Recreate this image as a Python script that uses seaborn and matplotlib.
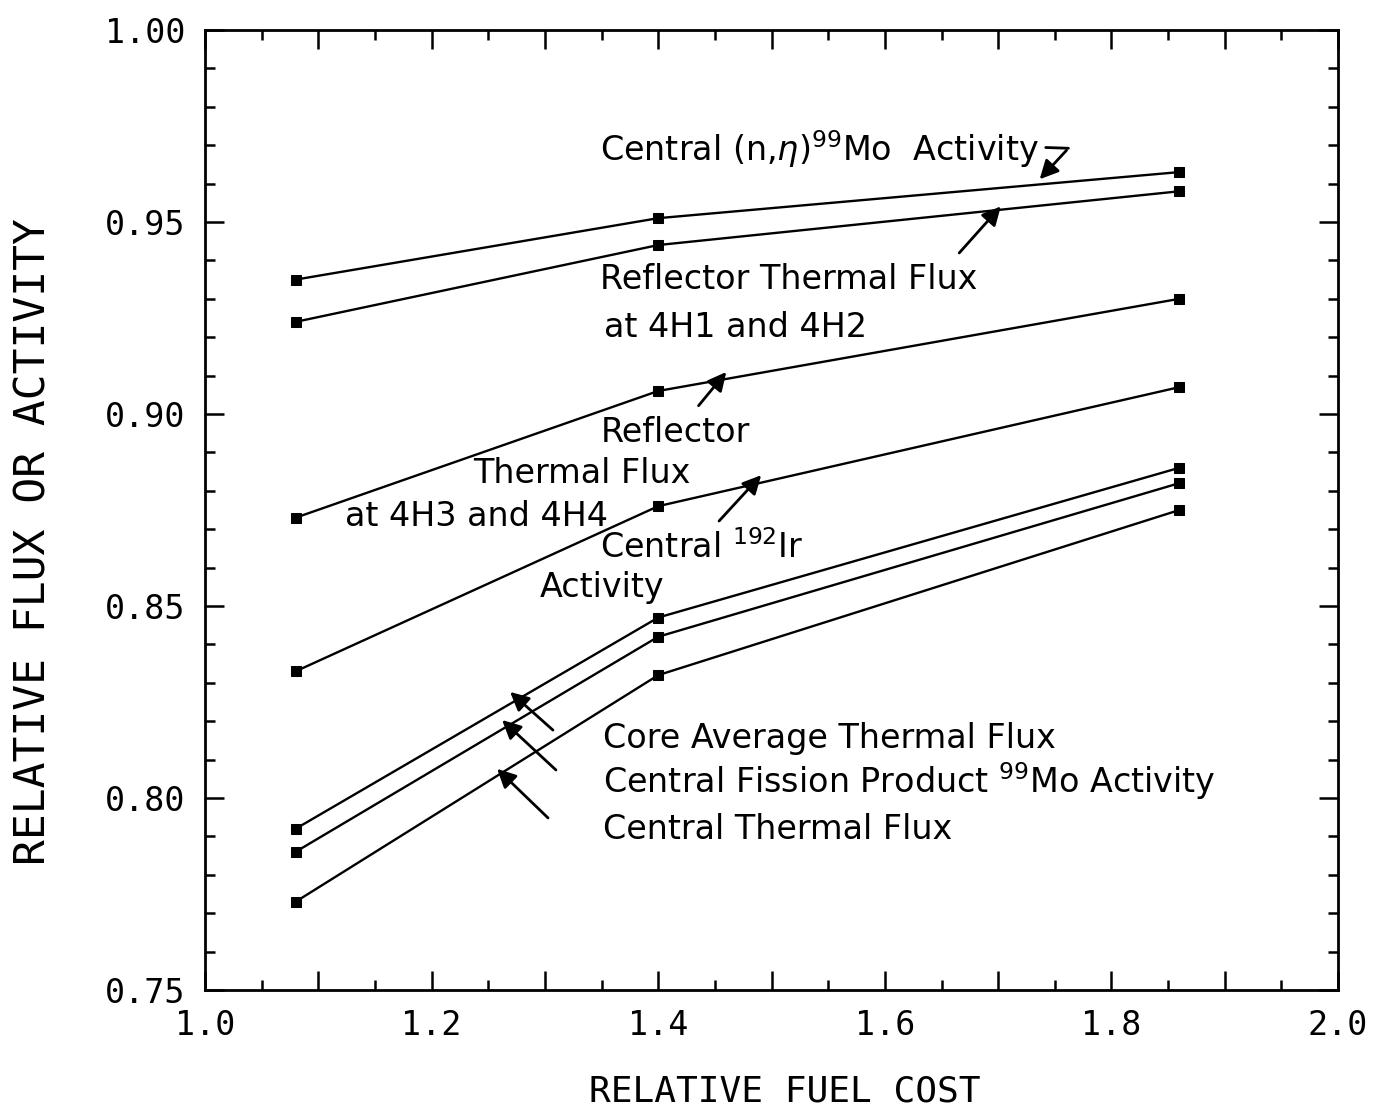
import seaborn as sns
import matplotlib.pyplot as plt
import pandas as pd
from matplotlib.ticker import MultipleLocator

# data
fuel_cost = [1.08, 1.40, 1.86]
central_ng_mo99 = [0.935, 0.951, 0.963]
refl_4h1_4h2 = [0.924, 0.944, 0.958]
refl_4h3_4h4 = [0.873, 0.906, 0.930]
central_ir192 = [0.833, 0.876, 0.907]
core_avg_thermal = [0.792, 0.847, 0.886]
central_fp_mo99 = [0.786, 0.842, 0.882]
central_thermal = [0.773, 0.832, 0.875]

series = {
    'central_ng_mo99': central_ng_mo99,
    'refl_4h1_4h2': refl_4h1_4h2,
    'refl_4h3_4h4': refl_4h3_4h4,
    'central_ir192': central_ir192,
    'core_avg_thermal': core_avg_thermal,
    'central_fp_mo99': central_fp_mo99,
    'central_thermal': central_thermal,
}
rows = []
for name, vals in series.items():
    for x, y in zip(fuel_cost, vals):
        rows.append({'cost': x, 'value': y, 'series': name})
df = pd.DataFrame(rows)

sns.set_style('ticks')
plt.rcParams['font.family'] = ['DejaVu Sans']
plt.rcParams['text.color'] = 'black'
plt.rcParams['axes.labelcolor'] = 'black'

fig = plt.figure(figsize=(13.8, 11.15), dpi=100)
ax = fig.add_axes([0.1486, 0.1121, 0.821, 0.861])

sns.lineplot(data=df, x='cost', y='value', hue='series',
             palette=['black'] * len(series), marker='s', markersize=7,
             markeredgecolor='black', linewidth=1.7, legend=False, ax=ax)

ax.set_xlim(1.0, 2.0)
ax.set_ylim(0.75, 1.00)
ax.xaxis.set_minor_locator(MultipleLocator(0.05))
ax.yaxis.set_minor_locator(MultipleLocator(0.01))
ax.set_xticks([1.0, 1.1, 1.2, 1.3, 1.4, 1.5, 1.6, 1.7, 1.8, 1.9, 2.0])
ax.set_xticklabels(['1.0', '', '1.2', '', '1.4', '', '1.6', '', '1.8', '', '2.0'])
ax.set_yticks([0.75, 0.80, 0.85, 0.90, 0.95, 1.00])
ax.set_yticklabels(['0.75', '0.80', '0.85', '0.90', '0.95', '1.00'])

ax.tick_params(which='both', direction='in', top=True, right=True, width=1.8,
               colors='black')
ax.tick_params(which='major', length=14, pad=14)
ax.tick_params(which='minor', length=7)
for lab in ax.get_xticklabels() + ax.get_yticklabels():
    lab.set_family('DejaVu Sans Mono')
    lab.set_fontsize(24)
for sp in ax.spines.values():
    sp.set_linewidth(2)
    sp.set_color('black')

ax.set_xlabel('RELATIVE FUEL COST', family='DejaVu Sans Mono', fontsize=26)
ax.set_ylabel('RELATIVE FLUX OR ACTIVITY', family='DejaVu Sans Mono',
              fontsize=31)
ax.xaxis.set_label_coords(0.512, -0.088)
ax.yaxis.set_label_coords(-0.133, 0.467)

fs = 24
arrow = dict(arrowstyle='-|>', color='black', lw=2, mutation_scale=28)

# top curve label with bent leader
ax.text(1.349, 0.969, r'Central (n,$\eta$)$^{99}$Mo  Activity', fontsize=fs,
        va='center', ha='left')
ax.plot([1.742, 1.762], [0.9694, 0.9692], color='black', lw=2)
ax.annotate('', xy=(1.735, 0.9606), xytext=(1.762, 0.9692), arrowprops=arrow)

ax.text(1.349, 0.9349, 'Reflector Thermal Flux', fontsize=fs, va='center')
ax.text(1.352, 0.9224, 'at 4H1 and 4H2', fontsize=fs, va='center')
ax.annotate('', xy=(1.704, 0.9546), xytext=(1.664, 0.9414), arrowprops=arrow)

ax.text(1.349, 0.8953, 'Reflector', fontsize=fs, va='center')
ax.text(1.2365, 0.8846, 'Thermal Flux', fontsize=fs, va='center')
ax.text(1.1236, 0.8734, 'at 4H3 and 4H4', fontsize=fs, va='center')
ax.annotate('', xy=(1.4616, 0.9115), xytext=(1.434, 0.9016), arrowprops=arrow)

ax.text(1.349, 0.8651, r'Central $^{192}$Ir', fontsize=fs, va='center')
ax.text(1.2957, 0.8549, 'Activity', fontsize=fs, va='center')
ax.annotate('', xy=(1.4925, 0.8846), xytext=(1.452, 0.8716), arrowprops=arrow)

ax.text(1.351, 0.8154, 'Core Average Thermal Flux', fontsize=fs, va='center')
ax.text(1.351, 0.8044, r'Central Fission Product $^{99}$Mo Activity',
        fontsize=fs, va='center')
ax.text(1.351, 0.7919, 'Central Thermal Flux', fontsize=fs, va='center')
ax.annotate('', xy=(1.2674, 0.8281), xytext=(1.3089, 0.8172), arrowprops=arrow)
ax.annotate('', xy=(1.2604, 0.8208), xytext=(1.3115, 0.8068), arrowprops=arrow)
ax.annotate('', xy=(1.2560, 0.8081), xytext=(1.3045, 0.7943), arrowprops=arrow)

fig.savefig('out.png', dpi=100)
